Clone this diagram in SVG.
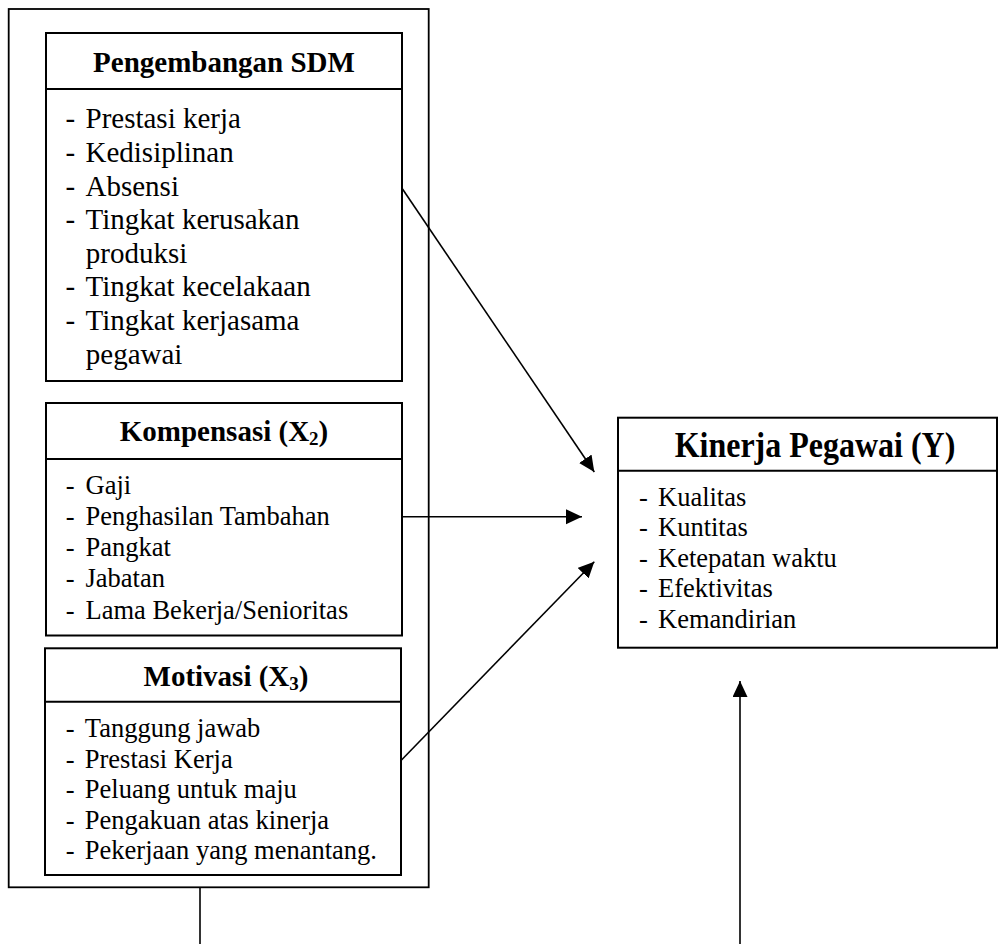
<svg xmlns="http://www.w3.org/2000/svg" width="998" height="944" viewBox="0 0 998 944">
<style>
.box{fill:#fff;stroke:#000;stroke-width:2}
.frame{fill:none;stroke:#000;stroke-width:1.8}
.div{stroke:#000;stroke-width:2}
.hd{font-family:"Liberation Serif","Times New Roman",serif;font-weight:bold;font-size:29px;text-anchor:middle;fill:#000}
.li{font-family:"Liberation Serif","Times New Roman",serif;font-size:26.5px;fill:#000}
.lb{font-family:"Liberation Serif","Times New Roman",serif;font-size:29px;fill:#000}
.con{stroke:#000;stroke-width:1.6;fill:none}
</style>
<defs>
<marker id="ah" markerUnits="userSpaceOnUse" markerWidth="17" markerHeight="16" refX="16" refY="7.5" orient="auto">
<path d="M0,0 L16,7.5 L0,15 z" fill="#000"/>
</marker>
</defs>
<rect width="998" height="944" fill="#fff"/>

<g id="outer-frame">
<rect class="frame" x="8.7" y="9" width="420" height="878.3"/>
</g>

<g id="pengembangan-sdm">
<rect class="box" x="46" y="33" width="356" height="348"/>
<line class="div" x1="46" y1="89" x2="402" y2="89"/>
<text class="hd" x="224" y="71.7">Pengembangan SDM</text>
<g class="lb">
<text x="65.6" y="128.3">-</text><text x="85.5" y="128.3">Prestasi kerja</text>
<text x="65.6" y="161.9">-</text><text x="85.5" y="161.9">Kedisiplinan</text>
<text x="65.6" y="195.5">-</text><text x="85.5" y="195.5">Absensi</text>
<text x="65.6" y="229.1">-</text><text x="85.5" y="229.1">Tingkat kerusakan</text>
<text x="85.8" y="262.7">produksi</text>
<text x="65.6" y="296.3">-</text><text x="85.5" y="296.3">Tingkat kecelakaan</text>
<text x="65.6" y="329.9">-</text><text x="85.5" y="329.9">Tingkat kerjasama</text>
<text x="85.8" y="363.5">pegawai</text>
</g>
</g>

<g id="kompensasi">
<rect class="box" x="46" y="403" width="356" height="232.5"/>
<line class="div" x1="46" y1="459" x2="402" y2="459"/>
<text class="hd" x="224" y="441">Kompensasi (X<tspan font-size="19" dy="4">2</tspan><tspan dy="-4">)</tspan></text>
<g class="li">
<text x="65.8" y="494.3">-</text><text x="85.5" y="494.3">Gaji</text>
<text x="65.8" y="525.3">-</text><text x="85.5" y="525.3">Penghasilan Tambahan</text>
<text x="65.8" y="556.3">-</text><text x="85.5" y="556.3">Pangkat</text>
<text x="65.8" y="587.3">-</text><text x="85.5" y="587.3">Jabatan</text>
<text x="65.8" y="618.5">-</text><text x="85.5" y="618.5">Lama Bekerja/Senioritas</text>
</g>
</g>

<g id="motivasi">
<rect class="box" x="45" y="648.3" width="356" height="226.7"/>
<line class="div" x1="45" y1="701.7" x2="401" y2="701.7"/>
<text class="hd" x="226" y="685.7">Motivasi (X<tspan font-size="19" dy="4">3</tspan><tspan dy="-4">)</tspan></text>
<g class="li">
<text x="65.8" y="737">-</text><text x="84.8" y="737">Tanggung jawab</text>
<text x="65.8" y="767.6">-</text><text x="84.8" y="767.6">Prestasi Kerja</text>
<text x="65.8" y="798.2">-</text><text x="84.8" y="798.2">Peluang untuk maju</text>
<text x="65.8" y="828.8">-</text><text x="84.8" y="828.8">Pengakuan atas kinerja</text>
<text x="65.8" y="859.4">-</text><text x="84.8" y="859.4">Pekerjaan yang menantang.</text>
</g>
</g>

<g id="kinerja-pegawai">
<rect class="box" x="618" y="417.7" width="379" height="230"/>
<line class="div" x1="618" y1="470.7" x2="997" y2="470.7"/>
<text class="hd" font-size="32" style="font-size:32px" transform="translate(815,456.7) scale(1,1.15)" x="0" y="0">Kinerja Pegawai (Y)</text>
<g class="li">
<text x="639" y="506">-</text><text x="658" y="506">Kualitas</text>
<text x="639" y="536.4">-</text><text x="658" y="536.4">Kuntitas</text>
<text x="639" y="566.8">-</text><text x="658" y="566.8">Ketepatan waktu</text>
<text x="639" y="597.2">-</text><text x="658" y="597.2">Efektivitas</text>
<text x="639" y="627.6">-</text><text x="658" y="627.6">Kemandirian</text>
</g>
</g>

<g id="connectors">
<line class="con" x1="402" y1="188.3" x2="594.3" y2="472" marker-end="url(#ah)"/>
<line class="con" x1="402" y1="516.7" x2="582" y2="516.7" marker-end="url(#ah)"/>
<line class="con" x1="401.5" y1="760" x2="594.3" y2="561.7" marker-end="url(#ah)"/>
<line class="con" x1="740" y1="944" x2="740" y2="681" marker-end="url(#ah)"/>
<line class="con" x1="200" y1="887.3" x2="200" y2="944"/>
</g>
</svg>
